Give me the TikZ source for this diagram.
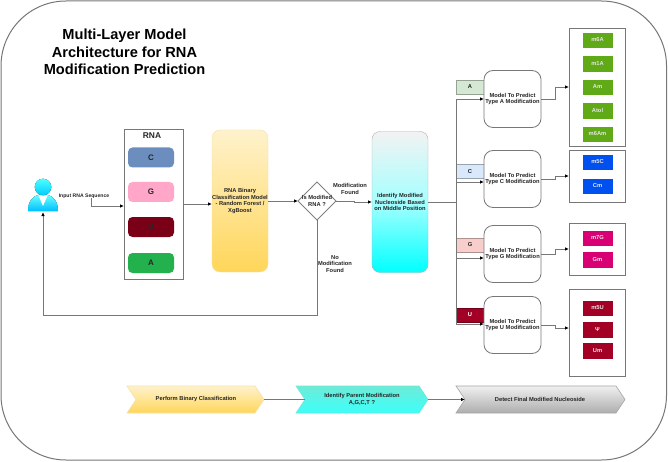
\documentclass[tikz,border=0pt]{standalone}
\usepackage{fontspec}
\setmainfont{Liberation Sans}
\usetikzlibrary{arrows.meta}
\definecolor{ln}{HTML}{777777}
\definecolor{grnA}{HTML}{60A917}
\definecolor{bluC}{HTML}{0050EF}
\definecolor{pnkG}{HTML}{D80073}
\definecolor{redU}{HTML}{A20025}
\definecolor{tagA}{HTML}{D5E8D4}
\definecolor{tagC}{HTML}{DAE8FC}
\definecolor{tagG}{HTML}{F8CECC}
\definecolor{nucC}{HTML}{6C8EBF}
\definecolor{nucG}{HTML}{FFA6C9}
\definecolor{nucU}{HTML}{7A0018}
\definecolor{nucA}{HTML}{22B14C}
\definecolor{yelT}{HTML}{FFF2CC}
\definecolor{yelB}{HTML}{FFD65A}
\definecolor{yelL}{HTML}{F5E2A8}
\definecolor{cyaT}{HTML}{6EEBD7}
\definecolor{cyaB}{HTML}{3CFFFA}
\tikzset{
  every node/.style={font=\fontsize{5.75}{6.9}\selectfont\bfseries,align=center,inner sep=0pt,outer sep=0pt,text=black!85},
  link/.style={draw=ln,line width=0.8pt},
  arr/.style={link,-{Latex[length=4pt,width=3.5pt,black]}},
  panel/.style={draw=ln,line width=0.9pt,fill=white},
  base/.style={draw=#1,fill=#1,text=white!90!black,minimum width=29pt,minimum height=14.5pt},
  nuc/.style={rounded corners=4.5pt,minimum width=46pt,minimum height=20pt,font=\fontsize{8}{9}\selectfont\bfseries},
  model/.style={draw=ln,line width=0.8pt,fill=white,rounded corners=9pt,minimum width=57pt,minimum height=57pt},
  tag/.style={minimum width=28pt,minimum height=14pt,draw=#1!70!black,fill=#1,line width=0.4pt},
  tall/.style={rounded corners=8pt,minimum width=56pt},
  blabel/.style={fill=white,inner xsep=0.5pt},
  chev/.style={draw=#1,line width=0.6pt}
}
\begin{document}
\begin{tikzpicture}[x=1pt,y=-1pt]
\useasboundingbox (0,0) rectangle (668,462);
\fill[white] (0,0) rectangle (668,462);
\draw[draw=ln,line width=1pt,rounded corners=65pt] (1,1) rectangle (666.5,460);
\node[font=\fontsize{14.6}{17.3}\selectfont\bfseries,text=black] (title) at (124.5,52) {Multi-Layer Model\\Architecture for RNA\\Modification Prediction};

% user
\node (user) at (43,199) [minimum width=30pt,minimum height=26pt] {};
\fill[top color=cyan!60!white,bottom color=cyan!75!blue] (28,211) .. controls (28,201) and (33,196) .. (38,195) -- (48,195) .. controls (53,196) and (58,201) .. (58,211) -- cycle;
\fill[white] (38.5,195.5) -- (47.5,195.5) -- (43,206) -- cycle;
\fill[top color=cyan!70!white,bottom color=cyan!80!blue] (43,187) circle (8.3pt);

% RNA
\node[panel,minimum width=59pt,minimum height=150pt] (rna) at (153.5,204) {};
\node[font=\fontsize{8.4}{9}\selectfont\bfseries] (rnat) at (152,135.5) {RNA};
\node[nuc,fill=nucC] (nc) at (151,157.5) {C};
\node[nuc,fill=nucG] (ng) at (151,192) {G};
\node[nuc,fill=nucU] (nu) at (151,227) {U};
\node[nuc,fill=nucA] (na) at (151,263) {A};

% main boxes
\node[tall,minimum height=142pt,draw=yelL,top color=yelT,bottom color=yelB] (clf) at (240,201) {RNA Binary\\Classification Model\\- Random Forest /\\XgBoost};
\node[tall,minimum height=141pt,draw=black!30,top color=black!5,bottom color=cyan,middle color=cyan!35!white] (ident) at (400,202) {Identify Modified\\Nucleoside Based\\on Middle Position};
\draw[draw=black!50,line width=0.8pt,fill=white] (317,182) coordinate (dn) -- (336,201) coordinate (de) -- (317,220) coordinate (ds) -- (298,201) coordinate (dw) -- cycle;
\node (dlab) at (317,201) {Is Modified\\RNA ?};

% tags (behind models)
\node[tag=tagA] (ta) at (470,87) {A};
\node[tag=tagC] (tc) at (470,171.5) {C};
\node[tag=tagG] (tg) at (470,245) {G};
\node[tag=redU,text=white] (tu) at (470,315) {U};

% models
\node[model] (ma) at (512.5,99) {Model To Predict\\Type A Modification};
\node[model] (mc) at (512.5,179) {Model To Predict\\Type C Modification};
\node[model] (mg) at (512.5,254) {Model To Predict\\Type G Modification};
\node[model] (mu) at (512.5,325) {Model To Predict\\Type U Modification};

% panels
\node[panel,minimum width=56pt,minimum height=118pt] (pa) at (597,87) {};
\node[panel,minimum width=56pt,minimum height=52pt] (pc) at (597,176) {};
\node[panel,minimum width=56pt,minimum height=52pt] (pg) at (597,249) {};
\node[panel,minimum width=56pt,minimum height=87pt] (pu) at (597,332.5) {};
\node[base=grnA] (a1) at (597.5,40) {m6A};
\node[base=grnA] (a2) at (597.5,63.5) {m1A};
\node[base=grnA] (a3) at (597.5,87) {Am};
\node[base=grnA] (a4) at (597.5,110.5) {Atol};
\node[base=grnA] (a5) at (597.5,134) {m6Am};
\node[base=bluC] (c1) at (597.5,162) {m5C};
\node[base=bluC] (c2) at (597.5,186) {Cm};
\node[base=pnkG] (g1) at (597.5,238) {m7G};
\node[base=pnkG] (g2) at (597.5,259.5) {Gm};
\node[base=redU] (u1) at (597.5,308) {m5U};
\node[base=redU] (u2) at (597.5,329.5) {Ψ};
\node[base=redU] (u3) at (597.5,350.5) {Um};

% connectors
\draw[arr] (user.east |- 0,196) -- (91,196) -- (91,206) -- (rna.west |- 0,206);
\node[blabel] (inp) at (84,196) {\fontsize{5.1}{6}\selectfont Input RNA Sequence};
\draw[arr] (rna.east |- 0,204) -- (clf.west |- 0,204);
\draw[arr] (clf.east |- dw) -- (dw);
\draw[arr] (de) -- (354,201) -- (354,202) -- (ident.west);
\draw[arr] (ds) -- (317,315) -- (43,315) -- (user.south);
\node (mf) at (350,189) {Modification\\Found};
\node (nmf) at (335,264) {No\\Modification\\Found};
\coordinate (hub) at (456,202);
\draw[link] (ident.east) -- (hub);
\draw[arr] (hub) -- (456,99) -- (ma.west);
\draw[arr] (hub) -- (456,182) -- (mc.west |- 0,182);
\draw[arr] (hub) -- (456,258) -- (mg.west |- 0,258);
\draw[arr] (hub) -- (456,324) -- (mu.west |- 0,324);
\draw[arr] (ma.east) -- (555,99) -- (555,87) -- (pa.west);
\draw[arr] (mc.east) -- (555,179) -- (555,176) -- (pc.west);
\draw[arr] (mg.east) -- (555,254) -- (555,249) -- (pg.west);
\draw[arr] (mu.east) -- (555,325) -- (555,328) -- (pu.west |- 0,328);

% bottom chevrons
\draw[chev=yelL,top color=yelT,bottom color=yelB] (127,386) -- (255,386) -- (264,399.5) coordinate (s1e) -- (255,413) -- (127,413) -- (136,399.5) -- cycle;
\draw[chev=cyaT,top color=cyaT,bottom color=cyaB] (296,386) -- (419,386) -- (428,399.5) coordinate (s2e) -- (419,413) -- (296,413) -- (305,399.5) coordinate (s2w) -- cycle;
\draw[chev=black!35,top color=black!6,bottom color=black!32] (456,386) -- (616,386) -- (625,399.5) -- (616,413) -- (456,413) -- (465,399.5) coordinate (s3w) -- cycle;
\node (s1) at (196,399.5) {Perform Binary Classification};
\node (s2) at (362,399.5) {Identify Parent Modification\\A,G,C,T ?};
\node (s3) at (540,399.5) {Detect Final Modified Nucleoside};
\draw[link] (s1e) -- (s2w);
\draw[arr] (s2e) -- (s3w);
\end{tikzpicture}
\end{document}
